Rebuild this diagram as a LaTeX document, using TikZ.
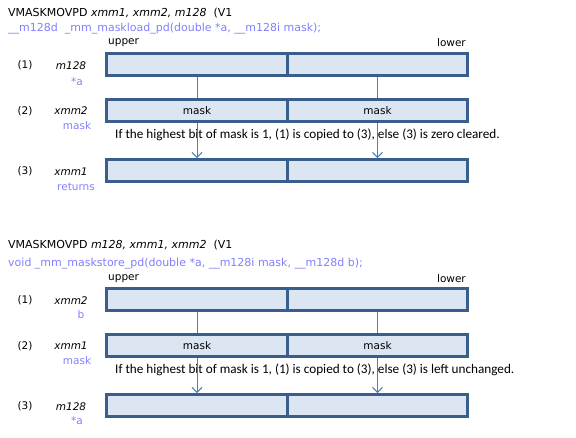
\documentclass[tikz,border=0pt]{standalone}
\usepackage{fontspec}
\setmainfont{DejaVu Sans}
\newfontfamily\notefont{Carlito}
\usetikzlibrary{arrows.meta}
\definecolor{boxline}{RGB}{58,94,140}
\definecolor{boxfill}{RGB}{220,230,242}
\definecolor{linkcol}{RGB}{74,126,187}
\definecolor{argcol}{RGB}{128,128,255}
\tikzset{
  half/.style={draw=boxline,fill=boxfill,line width=3pt,minimum width=180.5pt,
    minimum height=22pt,inner sep=0pt,font=\fontsize{10.5}{12}\selectfont},
  txt/.style={anchor=west,inner sep=0pt,font=\fontsize{11}{13}\selectfont},
  lbl/.style={inner sep=0pt,font=\fontsize{10.5}{12}\selectfont},
  arg/.style={inner sep=0pt,text=argcol,font=\fontsize{10.5}{12}\selectfont},
  note/.style={anchor=west,inner sep=0pt,font=\notefont\fontsize{13.2}{15}\selectfont},
  link/.style={draw=linkcol,line width=1pt},
}
\begin{document}
\begin{tikzpicture}[x=1pt,y=-1pt]
  \useasboundingbox (0,0) rectangle (576,437);
  % load
  \node[txt] (title1) at (8,13.5) {VMASKMOVPD \textit{xmm1, xmm2, m128}~~(V1};
  \node[txt,text=argcol] (func1) at (8,28.5) {\_\_m128d~~\_mm\_maskload\_pd(double *a, \_\_m128i mask);};
  \node[lbl,anchor=west] (upper1) at (108,43) {upper};
  \node[lbl,anchor=east] (lower1) at (466,43) {lower};
  \node[lbl] (num11) at (25,65.5) {(1)};
  \node[lbl] (reg11) at (71,65.5) {\textit{m128}};
  \node[arg] (arg11) at (77,81.5) {*a};
  \node[lbl] (num12) at (25,111) {(2)};
  \node[lbl] (reg12) at (71,111) {\textit{xmm2}};
  \node[arg] (arg12) at (77,126) {mask};
  \node[lbl] (num13) at (25,171.5) {(3)};
  \node[lbl] (reg13) at (71,171.5) {\textit{xmm1}};
  \node[arg] (arg13) at (76,186.5) {returns};
  \node[half] (b11u) at (197,64.5) {};
  \node[half] (b11l) at (377.5,64.5) {};
  \node[half] (b12u) at (197,110.5) {mask};
  \node[half] (b12l) at (377.5,110.5) {mask};
  \node[half] (b13u) at (197,170.5) {};
  \node[half] (b13l) at (377.5,170.5) {};
  \node[note] (note1) at (115,134.5) {If the highest bit of mask is 1, (1) is copied to (3), else (3) is zero cleared.};
  % store
  \node[txt] (title2) at (8,245.5) {VMASKMOVPD \textit{m128, xmm1, xmm2}~~(V1};
  \node[txt,text=argcol] (func2) at (8,264) {void \_mm\_maskstore\_pd(double *a, \_\_m128i mask, \_\_m128d b);};
  \node[lbl,anchor=west] (upper2) at (108,278.5) {upper};
  \node[lbl,anchor=east] (lower2) at (466,278.5) {lower};
  \node[lbl] (num21) at (25,300.5) {(1)};
  \node[lbl] (reg21) at (71,300.5) {\textit{xmm2}};
  \node[arg] (arg21) at (81,315) {b};
  \node[lbl] (num22) at (25,346) {(2)};
  \node[lbl] (reg22) at (71,346) {\textit{xmm1}};
  \node[arg] (arg22) at (77,361) {mask};
  \node[lbl] (num23) at (25,406.5) {(3)};
  \node[lbl] (reg23) at (71,406.5) {\textit{m128}};
  \node[arg] (arg23) at (77,421) {*a};
  \node[half] (b21u) at (197,299.5) {};
  \node[half] (b21l) at (377.5,299.5) {};
  \node[half] (b22u) at (197,345.5) {mask};
  \node[half] (b22l) at (377.5,345.5) {mask};
  \node[half] (b23u) at (197,405.5) {};
  \node[half] (b23l) at (377.5,405.5) {};
  \node[note] (note2) at (115,369.5) {If the highest bit of mask is 1, (1) is copied to (3), else (3) is left unchanged.};
  \begin{scope}[link,arrows={-{Straight Barb[length=5pt,width=10pt]}}]
    \draw[-] (b11u) to (b12u);
    \draw[-] (b11l) to (b12l);
    \draw (b12u) to (b13u);
    \draw (b12l) to (b13l);
    \draw[-] (b21u) to (b22u);
    \draw[-] (b21l) to (b22l);
    \draw (b22u) to (b23u);
    \draw (b22l) to (b23l);
  \end{scope}
\end{tikzpicture}
\end{document}
